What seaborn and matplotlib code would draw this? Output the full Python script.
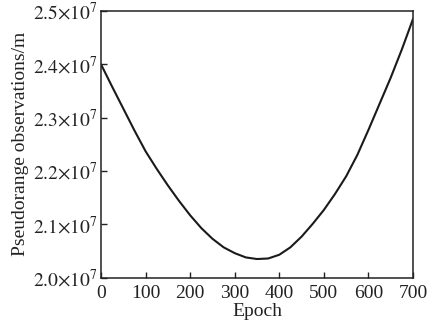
import matplotlib
matplotlib.use("Agg")
import matplotlib.pyplot as plt
from matplotlib.ticker import FuncFormatter, MultipleLocator
import seaborn as sns
import pandas as pd

# Pseudorange of one satellite over the observation session (metres)
epochs = [0, 25, 50, 75, 100, 125, 150, 175, 200, 225, 250, 275, 300, 325,
          350, 375, 400, 425, 450, 475, 500, 525, 550, 575, 600, 625, 650,
          675, 700]
pseudorange_e7 = [2.400, 2.358, 2.317, 2.276, 2.237, 2.204, 2.173, 2.144,
                  2.117, 2.093, 2.073, 2.057, 2.046, 2.038, 2.035, 2.036,
                  2.043, 2.057, 2.077, 2.101, 2.127, 2.157, 2.190, 2.230,
                  2.277, 2.326, 2.375, 2.428, 2.485]
y_ticks_e7 = [2.0, 2.1, 2.2, 2.3, 2.4, 2.5]

df = pd.DataFrame({"Epoch": epochs,
                   "Pseudorange": [v * 1e7 for v in pseudorange_e7]})

sns.set_style("ticks")
plt.rcParams["font.family"] = ["Liberation Serif", "DejaVu Serif"]
plt.rcParams["mathtext.fontset"] = "stix"

fig = plt.figure(figsize=(4.33, 3.22), dpi=100)
ax = fig.add_axes([0.2333, 0.1376, 0.7205, 0.8282])

sns.lineplot(data=df, x="Epoch", y="Pseudorange", ax=ax,
             color="#1a1a1a", linewidth=1.5)

ax.set_xlim(0, 700)
ax.set_ylim(2.0e7, 2.5e7)
ax.xaxis.set_major_locator(MultipleLocator(100))
ax.set_yticks([v * 1e7 for v in y_ticks_e7])
ax.yaxis.set_major_formatter(
    FuncFormatter(lambda v, _: r"$%.1f{\times}10^{7}$" % (v / 1e7)))

ax.tick_params(direction="in", length=4, width=1.0, colors="#222222",
               labelsize=14, labelcolor="#222222")
ax.tick_params(axis="x", pad=5)
ax.tick_params(axis="y", pad=2)
for s in ax.spines.values():
    s.set_visible(True)
    s.set_linewidth(1.1)
    s.set_color("#222222")

ax.set_xlabel("Epoch", fontsize=14, color="#222222", labelpad=1)
ax.set_ylabel("Pseudorange observations/m", fontsize=14, color="#222222",
              labelpad=3)

fig.savefig("out.png", dpi=100, facecolor="white")
